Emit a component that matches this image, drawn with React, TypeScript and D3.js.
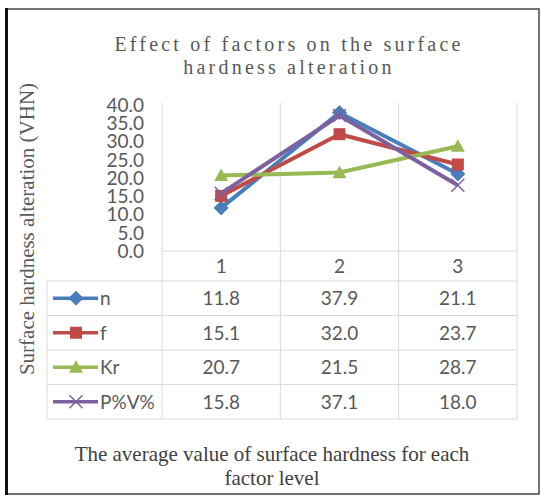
import React from "react";
import * as d3 from "d3";

const categories = ["1", "2", "3"];
const seriesNames = ["n", "f", "Kr", "P%V%"];
const nValues = [11.8, 37.9, 21.1];
const fValues = [15.1, 32.0, 23.7];
const krValues = [20.7, 21.5, 28.7];
const pvValues = [15.8, 37.1, 18.0];
const yTicks = [0, 5, 10, 15, 20, 25, 30, 35, 40];
const titleLines = ["Effect of factors on the surface", "hardness alteration"];
const yTitle = "Surface hardness alteration (VHN)";
const xTitleLines = ["The average value of surface hardness for each", "factor level"];

const colors = ["#4a7ebb", "#be4b48", "#98b954", "#7d60a0"];
const markers = ["diamond", "square", "triangle", "x"];

const W = 542;
const H = 495;
const plotLeft = 162;
const plotRight = 517;
const plotTop = 105;
const plotBottom = 251;
const tableLeft = 47;
const headerBottom = 281;
const rowH = 34.5;

function Marker({ type, x, y, color }: { type: string; x: number; y: number; color: string }) {
  if (type === "diamond") {
    const s = 7;
    return <path d={`M${x},${y - s}L${x + s},${y}L${x},${y + s}L${x - s},${y}Z`} fill={color} stroke={color} />;
  }
  if (type === "square") {
    const s = 6;
    return <rect x={x - s} y={y - s} width={2 * s} height={2 * s} fill={color} />;
  }
  if (type === "triangle") {
    const s = 7;
    return <path d={`M${x},${y - s}L${x + s},${y + s * 0.8}L${x - s},${y + s * 0.8}Z`} fill={color} />;
  }
  const s = 6.5;
  return (
    <path d={`M${x - s},${y - s}L${x + s},${y + s}M${x - s},${y + s}L${x + s},${y - s}`} stroke={color} strokeWidth={1.5} fill="none" />
  );
}

export default function App() {
  const data = [nValues, fValues, krValues, pvValues];
  const x = d3.scaleBand<string>().domain(categories).range([plotLeft, plotRight]);
  const y = d3.scaleLinear().domain([0, 40]).range([plotBottom, plotTop]);
  const line = d3
    .line<number>()
    .x((_, i) => (x(categories[i]) as number) + x.bandwidth() / 2)
    .y((d) => y(d));
  const colEdges = [plotLeft, ...categories.map((c) => (x(c) as number) + x.bandwidth())];
  const tableBottom = headerBottom + rowH * seriesNames.length;
  const grid = "#d9d9d9";
  const sans = "Lato, 'Open Sans', sans-serif";
  const serif = "'Liberation Serif', 'DejaVu Serif', serif";

  return (
    <div style={{ position: "absolute", left: 0, top: 0 }}>
      <svg width={W} height={H} style={{ display: "block", background: "#fff" }}>
        <rect x={7} y={9} width={532} height={485} fill="#fff" stroke="#444" strokeWidth={1.5} />
        <line x1={6.5} x2={6.5} y1={8} y2={495} stroke="#111" strokeWidth={3} />

        {titleLines.map((t, i) => (
          <text key={i} x={289} y={51 + i * 23} textAnchor="middle" fontFamily={serif} fontSize={20} letterSpacing={3.2} fill="#595959">
            {t}
          </text>
        ))}

        <text
          transform={`translate(34,229) rotate(-90)`}
          textAnchor="middle"
          fontFamily={serif}
          fontSize={21}
          fill="#595959"
        >
          {yTitle}
        </text>

        {yTicks.map((t) => (
          <text key={t} x={144} y={y(t)} dy="0.36em" textAnchor="end" fontFamily={sans} fontSize={19} fill="#595959">
            {t.toFixed(1)}
          </text>
        ))}

        {colEdges.map((cx, i) => (
          <line key={i} x1={cx} x2={cx} y1={plotTop - 2} y2={tableBottom} stroke={grid} strokeWidth={1} />
        ))}
        <line x1={tableLeft} x2={tableLeft} y1={headerBottom} y2={tableBottom} stroke={grid} />
        <line x1={plotLeft} x2={plotRight} y1={plotBottom} y2={plotBottom} stroke={grid} />
        {seriesNames.map((_, i) => (
          <line key={i} x1={tableLeft} x2={plotRight} y1={headerBottom + i * rowH} y2={headerBottom + i * rowH} stroke={grid} />
        ))}
        <line x1={tableLeft} x2={plotRight} y1={tableBottom} y2={tableBottom} stroke={grid} />

        {categories.map((c) => (
          <text key={c} x={(x(c) as number) + x.bandwidth() / 2} y={(plotBottom + headerBottom) / 2} dy="0.36em" textAnchor="middle" fontFamily={sans} fontSize={19} fill="#595959">
            {c}
          </text>
        ))}

        {seriesNames.map((name, si) => {
          const cy = headerBottom + si * rowH + rowH / 2;
          return (
            <g key={name}>
              <line x1={53} x2={98} y1={cy} y2={cy} stroke={colors[si]} strokeWidth={3.5} />
              <Marker type={markers[si]} x={76} y={cy} color={colors[si]} />
              <text x={100} y={cy} dy="0.36em" fontFamily={sans} fontSize={19} fill="#595959">
                {name}
              </text>
              {data[si].map((v, ci) => (
                <text key={ci} x={(x(categories[ci]) as number) + x.bandwidth() / 2} y={cy} dy="0.36em" textAnchor="middle" fontFamily={sans} fontSize={19} fill="#595959">
                  {v.toFixed(1)}
                </text>
              ))}
            </g>
          );
        })}

        {data.map((vals, si) => (
          <g key={si}>
            <path d={line(vals) as string} fill="none" stroke={colors[si]} strokeWidth={4} strokeLinejoin="round" />
            {vals.map((v, ci) => (
              <Marker key={ci} type={markers[si]} x={(x(categories[ci]) as number) + x.bandwidth() / 2} y={y(v)} color={colors[si]} />
            ))}
          </g>
        ))}

        {xTitleLines.map((t, i) => (
          <text key={i} x={272} y={461 + i * 24} textAnchor="middle" fontFamily={serif} fontSize={21} fill="#404040">
            {t}
          </text>
        ))}
      </svg>
    </div>
  );
}
